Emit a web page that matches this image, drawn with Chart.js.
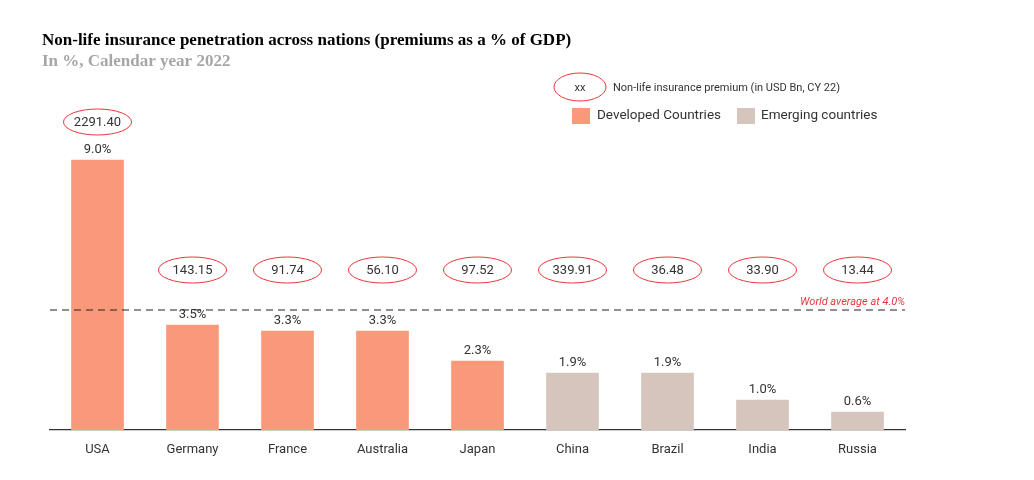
<!DOCTYPE html>
<html><head><meta charset="utf-8">
<script src="https://cdn.jsdelivr.net/npm/chart.js@4/dist/chart.umd.min.js"></script>
<style>html,body{margin:0;padding:0;background:#fff}#w{width:1034px;height:480px;position:relative}</style>
</head><body><div id="w"><canvas id="c"></canvas></div>
<script>
const countries=['USA','Germany','France','Australia','Japan','China','Brazil','India','Russia'];
const penetration=[9.0,3.5,3.3,3.3,2.3,1.9,1.9,1.0,0.6];
const premiums=['2291.40','143.15','91.74','56.10','97.52','339.91','36.48','33.90','13.44'];
const groups=['Developed','Developed','Developed','Developed','Developed','Emerging','Emerging','Emerging','Emerging'];
const worldAverage=4.0;
const DEV='#f9997a',EMG='#d6c5bc',RED='#e8353a';
function ell(ctx,x,y,rx,ry){ctx.beginPath();ctx.ellipse(x,y,rx,ry,0,0,Math.PI*2);ctx.strokeStyle=RED;ctx.lineWidth=1;ctx.stroke();}
const deco={id:'deco',afterDatasetsDraw(ch){
 const ctx=ch.ctx,xs=ch.scales.x,ys=ch.scales.y,a=ch.chartArea;ctx.save();
 ctx.font='bold 17px "Liberation Serif"';ctx.fillStyle='#000';ctx.textBaseline='middle';ctx.textAlign='left';
 ctx.fillText('Non-life insurance penetration across nations (premiums as a % of GDP)',42,41);
 ctx.fillStyle='#a6a6a6';ctx.fillText('In %, Calendar year 2022',42,62);
 // avg line
 const ay=ys.getPixelForValue(worldAverage);
 ctx.setLineDash([7,5]);ctx.strokeStyle='#222';ctx.lineWidth=1.2;ctx.beginPath();ctx.moveTo(a.left,ay);ctx.lineTo(a.right,ay);ctx.stroke();ctx.setLineDash([]);
 ctx.font='italic 11px Roboto';ctx.fillStyle=RED;ctx.textAlign='right';ctx.fillText('World average at '+worldAverage.toFixed(1)+'%',a.right,ay-8);
 // labels
 ctx.textAlign='center';
 countries.forEach((c,i)=>{const x=xs.getPixelForValue(i),y=ys.getPixelForValue(penetration[i]);
  ctx.font='13px Roboto';ctx.fillStyle='#333';ctx.fillText(penetration[i].toFixed(1)+'%',x,y-10);
  const ey=i===0?122:270;ell(ctx,x,ey,34,13);ctx.fillStyle='#333';ctx.fillText(premiums[i],x,ey+1);});
 // legend
 ell(ctx,580,87,26,14);ctx.font='11px Roboto';ctx.fillStyle='#333';ctx.fillText('xx',580,88);
 ctx.textAlign='left';ctx.font='11px Roboto';ctx.fillText('Non-life insurance premium (in USD Bn, CY 22)',613,88);
 ctx.fillStyle=DEV;ctx.fillRect(572,108,18,16);ctx.fillStyle=EMG;ctx.fillRect(737,108,18,16);
 ctx.font='13.5px Roboto';ctx.fillStyle='#333';ctx.fillText('Developed Countries',597,116);ctx.fillText('Emerging countries',761,116);
 ctx.restore();}};
new Chart(document.getElementById('c'),{type:'bar',
 data:{labels:countries,datasets:[{data:penetration,backgroundColor:groups.map(g=>g==='Developed'?DEV:EMG),barThickness:52}]},
 options:{responsive:true,maintainAspectRatio:false,animation:false,
  layout:{padding:{left:50,right:129,top:100,bottom:0}},
  plugins:{legend:{display:false},tooltip:{enabled:false}},
  scales:{y:{display:false,min:0,max:11},
   x:{grid:{display:false},border:{display:true,color:'#333',width:1.2},
    ticks:{color:'#333',font:{family:'Roboto',size:13},padding:4},
    afterFit(s){s.height=50;}}}},
 plugins:[deco]});
</script></body></html>
